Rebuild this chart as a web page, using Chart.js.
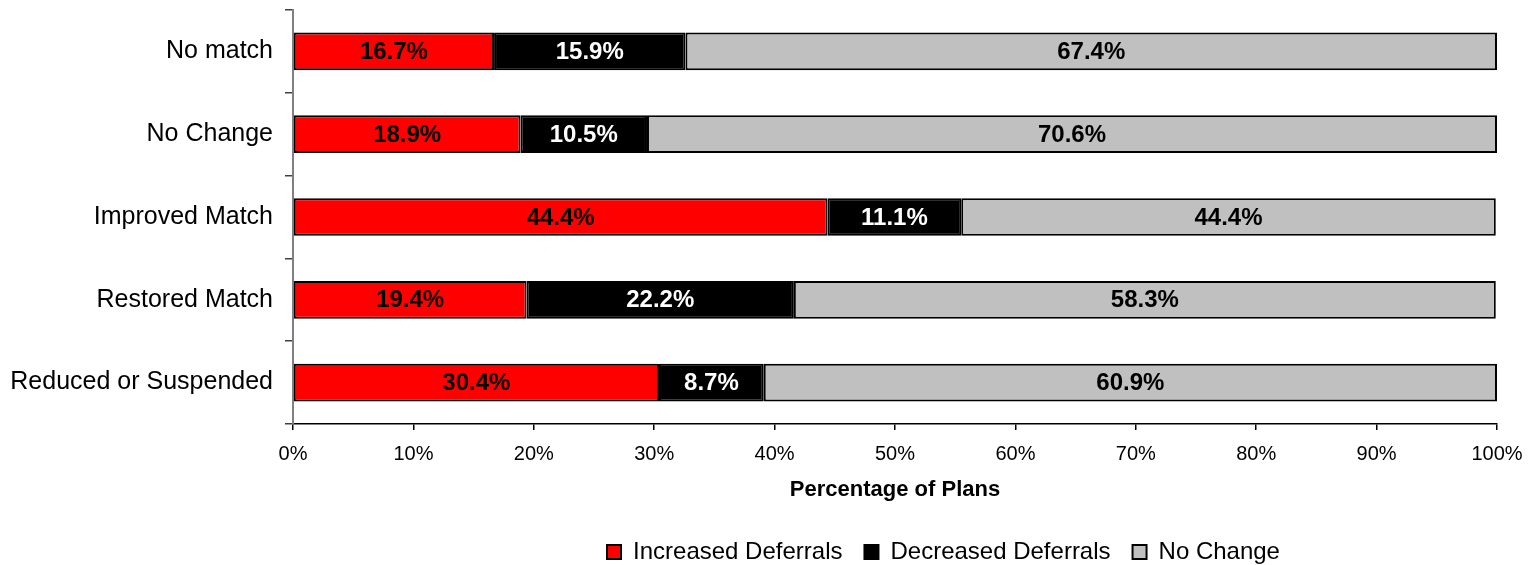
<!DOCTYPE html>
<html>
<head>
<meta charset="utf-8">
<script src="https://cdn.jsdelivr.net/npm/chart.js@4/dist/chart.umd.min.js"></script>
<style>
  body { margin: 0; background: #fff; }
  #wrap { width: 1536px; height: 565px; }
</style>
</head>
<body>
<div id="wrap"><canvas id="chart" width="1536" height="565"></canvas></div>
<script>
// plan categories, top to bottom
var categories = ["No match", "No Change", "Improved Match", "Restored Match", "Reduced or Suspended"];
var increased = [16.7, 18.9, 44.4, 19.4, 30.4];
var decreased = [15.9, 10.5, 11.1, 22.2, 8.7];
var noChange  = [67.4, 70.6, 44.4, 58.3, 60.9];
var xTicks = [0, 10, 20, 30, 40, 50, 60, 70, 80, 90, 100];

var FONT = "Arial, 'Liberation Sans', sans-serif";

// value labels inside each segment
var barLabels = {
  id: 'barLabels',
  afterDatasetsDraw: function(chart) {
    var ctx = chart.ctx;
    ctx.save();
    ctx.font = "bold 24px " + FONT;
    ctx.textAlign = 'center';
    ctx.textBaseline = 'middle';
    chart.data.datasets.forEach(function(ds, i) {
      var meta = chart.getDatasetMeta(i);
      ctx.fillStyle = ds.labelColor;
      meta.data.forEach(function(bar, j) {
        var v = ds.data[j];
        ctx.fillText(v.toFixed(1) + '%', (bar.x + bar.base) / 2, bar.y + 1);
      });
    });
    ctx.restore();
  }
};

// move the legend under the right part of the plot, like the original
var legendShift = {
  id: 'legendShift',
  afterLayout: function(chart) {
    var lg = chart.legend;
    lg.left += 195; lg.right += 195;
    lg.top += 9; lg.bottom += 9;
  }
};

var ctx = document.getElementById("chart").getContext("2d");
window.myBar = new Chart(ctx, {
  type: 'bar',
  data: {
    labels: categories,
    datasets: [{
      label: 'Increased Deferrals',
      data: increased,
      backgroundColor: '#ff0000',
      labelColor: '#000'
    }, {
      label: 'Decreased Deferrals',
      data: decreased,
      backgroundColor: '#000000',
      labelColor: '#fff'
    }, {
      label: 'No Change',
      data: noChange,
      backgroundColor: '#c0c0c0',
      labelColor: '#000'
    }]
  },
  options: {
    indexAxis: 'y',
    responsive: false,
    animation: false,
    layout: { padding: { top: 10, right: 39, left: 0, bottom: 0 } },
    datasets: {
      bar: {
        borderColor: '#000',
        borderWidth: 2,
        borderSkipped: false,
        categoryPercentage: 1,
        barPercentage: 0.455
      }
    },
    scales: {
      x: {
        stacked: true,
        min: 0,
        max: 100,
        afterBuildTicks: function(scale) {
          scale.ticks = xTicks.map(function(v) { return { value: v }; });
        },
        afterFit: function(scale) { scale.height = 85; },
        border: { color: '#000', width: 1.5 },
        grid: { drawOnChartArea: false, tickLength: 6, color: '#000', lineWidth: 1.5 },
        ticks: {
          color: '#000',
          padding: 12,
          maxRotation: 0,
          font: { family: FONT, size: 20 },
          callback: function(v) { return v + '%'; }
        },
        title: {
          display: true,
          text: 'Percentage of Plans',
          color: '#000',
          padding: { top: 0, bottom: 6 },
          font: { family: FONT, size: 22, weight: 'bold' }
        }
      },
      y: {
        stacked: true,
        afterFit: function(scale) {
          scale.width = 293;
          scale.paddingTop = 0;
          scale.paddingBottom = 0;
        },
        border: { color: '#808080', width: 2 },
        grid: { drawOnChartArea: false, tickLength: 8, color: '#404040', lineWidth: 1.5 },
        ticks: {
          color: '#000',
          padding: 12,
          font: { family: FONT, size: 25 }
        }
      }
    },
    plugins: {
      tooltip: { enabled: false },
      legend: {
        position: 'bottom',
        labels: {
          color: '#000',
          boxWidth: 14,
          boxHeight: 14,
          padding: 22,
          font: { family: FONT, size: 24 }
        }
      }
    }
  },
  plugins: [barLabels, legendShift]
});
</script>
</body>
</html>
